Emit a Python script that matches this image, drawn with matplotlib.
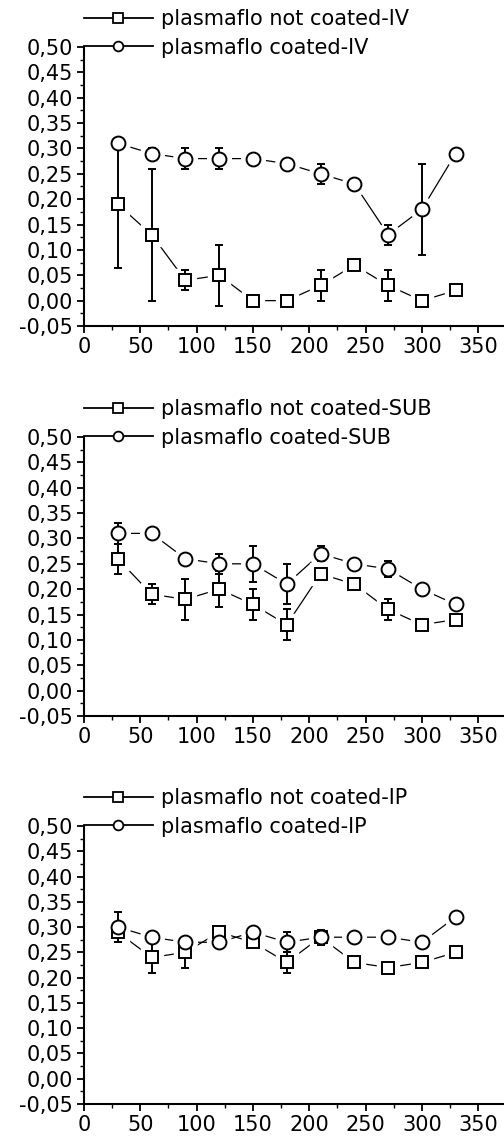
import matplotlib
matplotlib.use("Agg")
import matplotlib.pyplot as plt
from matplotlib.lines import Line2D
from matplotlib.ticker import FixedLocator, FixedFormatter, MultipleLocator

plt.rcParams['font.family'] = ['DejaVu Sans']

# ---------------- data ----------------
times = [30, 60, 90, 120, 150, 180, 210, 240, 270, 300, 330]

iv_not = [0.19, 0.13, 0.04, 0.05, 0.00, 0.00, 0.03, 0.07, 0.03, 0.00, 0.02]
iv_not_err = [0.125, 0.13, 0.02, 0.06, 0, 0, 0.03, 0, 0.03, 0, 0]
iv_coat = [0.31, 0.29, 0.28, 0.28, 0.28, 0.27, 0.25, 0.23, 0.13, 0.18, 0.29]
iv_coat_err = [0, 0.01, 0.02, 0.02, 0, 0.01, 0.02, 0, 0.02, 0.09, 0]

sub_not = [0.26, 0.19, 0.18, 0.20, 0.17, 0.13, 0.23, 0.21, 0.16, 0.13, 0.14]
sub_not_err = [0.03, 0.02, 0.04, 0.035, 0.03, 0.03, 0.01, 0, 0.02, 0, 0]
sub_coat = [0.31, 0.31, 0.26, 0.25, 0.25, 0.21, 0.27, 0.25, 0.24, 0.20, 0.17]
sub_coat_err = [0.02, 0, 0, 0.02, 0.035, 0.04, 0.015, 0, 0.015, 0.005, 0]

ip_not = [0.29, 0.24, 0.25, 0.29, 0.27, 0.23, 0.28, 0.23, 0.22, 0.23, 0.25]
ip_not_err = [0.02, 0.03, 0.03, 0.005, 0, 0.02, 0.01, 0, 0, 0, 0]
ip_coat = [0.30, 0.28, 0.27, 0.27, 0.29, 0.27, 0.28, 0.28, 0.28, 0.27, 0.32]
ip_coat_err = [0.03, 0.01, 0, 0, 0.005, 0.02, 0.015, 0, 0, 0.005, 0]

labels_not = ["plasmaflo not coated-IV", "plasmaflo not coated-SUB", "plasmaflo not coated-IP"]
labels_coat = ["plasmaflo coated-IV", "plasmaflo coated-SUB", "plasmaflo coated-IP"]

ytick_vals = [-0.05, 0.00, 0.05, 0.10, 0.15, 0.20, 0.25, 0.30, 0.35, 0.40, 0.45, 0.50]
ytick_labels = ["-0,05", "0,00", "0,05", "0,10", "0,15", "0,20", "0,25", "0,30",
                "0,35", "0,40", "0,45", "0,50"]
xtick_vals = [0, 50, 100, 150, 200, 250, 300, 350]
xtick_labels = ["0", "50", "100", "150", "200", "250", "300", "350"]

panels = [
    (iv_not, iv_not_err, iv_coat, iv_coat_err, labels_not[0], labels_coat[0]),
    (sub_not, sub_not_err, sub_coat, sub_coat_err, labels_not[1], labels_coat[1]),
    (ip_not, ip_not_err, ip_coat, ip_coat_err, labels_not[2], labels_coat[2]),
]

# ---------------- figure ----------------
W, H = 504, 1139
fig = plt.figure(figsize=(W / 100, H / 100), dpi=100)
fig.patch.set_facecolor('white')

ax_left = 84 / W
ax_width = 419 / W
tops = [47, 437, 826]
bottoms = [326, 716, 1104]
FS = 15

def series(ax, y, err, marker, ms):
    ax.plot(times, y, '-', color='black', lw=0.9, zorder=1)
    ax.plot(times, y, ls='none', marker=marker, ms=ms + 7, mfc='white', mec='white', zorder=2)
    ax.errorbar(times, y, yerr=err, fmt='none', ecolor='black', elinewidth=1.4,
                capsize=3, capthick=1.4, zorder=3)
    ax.plot(times, y, ls='none', marker=marker, ms=ms, mfc='white', mec='black', mew=1.4, zorder=4)

for (yn, en, yc, ec, ln, lc), t, b in zip(panels, tops, bottoms):
    ax = fig.add_axes([ax_left, 1 - b / H, ax_width, (b - t) / H])
    series(ax, yn, en, 's', 9)
    series(ax, yc, ec, 'o', 10)
    ax.set_xlim(0, 372)
    ax.set_ylim(-0.05, 0.50)
    for s in ['top', 'right']:
        ax.spines[s].set_visible(False)
    for s in ['left', 'bottom']:
        ax.spines[s].set_linewidth(1.5)
    ax.yaxis.set_major_locator(FixedLocator(ytick_vals))
    ax.yaxis.set_major_formatter(FixedFormatter(ytick_labels))
    ax.xaxis.set_major_locator(FixedLocator(xtick_vals))
    ax.xaxis.set_major_formatter(FixedFormatter(xtick_labels))
    ax.yaxis.set_minor_locator(MultipleLocator(0.025))
    ax.xaxis.set_minor_locator(MultipleLocator(25))
    ax.tick_params(which='major', direction='out', length=5, width=1.3, labelsize=FS, pad=3)
    ax.tick_params(which='minor', direction='out', length=3, width=1.0)
    h1 = Line2D([], [], color='black', lw=1.3, marker='s', ms=7, mfc='white', mec='black', mew=1.3)
    h2 = Line2D([], [], color='black', lw=1.3, marker='o', ms=7, mfc='white', mec='black', mew=1.3)
    ax.legend([h1, h2], [ln, lc], loc='lower left', bbox_to_anchor=(0.0, 0.962),
              frameon=False, fontsize=FS, handlelength=3.3, handletextpad=0.4,
              labelspacing=0.4, borderpad=0, borderaxespad=0, numpoints=1)

fig.savefig('out.png', dpi=100, facecolor='white')
